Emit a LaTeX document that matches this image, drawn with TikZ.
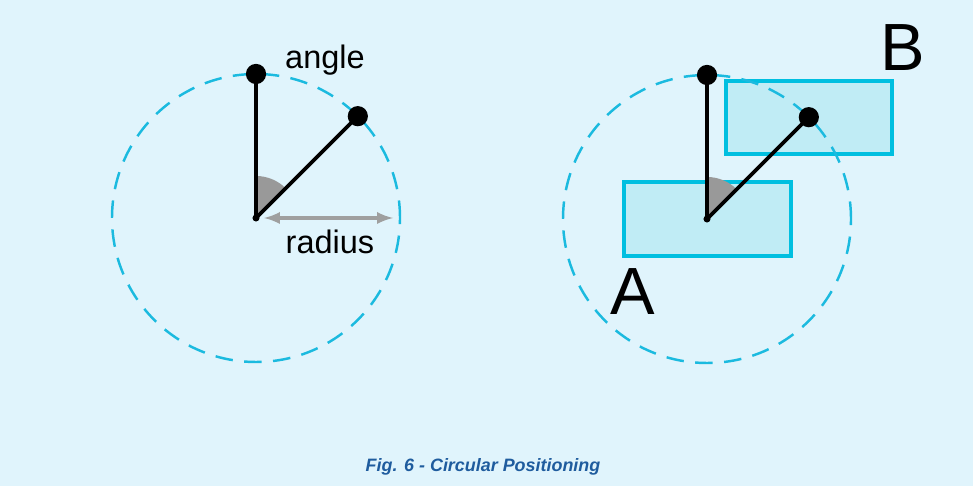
\documentclass[tikz,border=0pt]{standalone}
\usepackage{fontspec}
\setmainfont{Liberation Sans}
\usetikzlibrary{calc}
\definecolor{bgblue}{HTML}{E0F4FC}
\definecolor{ringblue}{HTML}{1BBADF}
\definecolor{boxfill}{HTML}{C0ECF5}
\definecolor{boxline}{HTML}{00BFE0}
\definecolor{capblue}{HTML}{1F5C9E}
\tikzset{
  ring/.style={ringblue, line width=1.4pt, dash pattern=on 10pt off 6.5pt},
  spoke/.style={line width=2.1pt},
  dot/.style={circle, fill=black, inner sep=0pt, minimum size=11.5pt},
  hub/.style={circle, fill=black, inner sep=0pt, minimum size=4pt},
  box/.style={fill=boxfill, draw=boxline, line width=2pt},
  lbl/.style={font=\fontsize{18.5}{20}\selectfont, inner sep=0pt},
  big/.style={font=\fontsize{38}{40}\selectfont, inner sep=0pt}
}
\begin{document}
\begin{tikzpicture}[x=0.02cm, y=0.02cm]
  \fill[bgblue] (0,0) rectangle (973,486);
  \useasboundingbox (0,0) rectangle (973,486);
  % left: angle and radius
  \coordinate (c1) at (256,268);
  \draw[ring] (c1) circle (144);
  \fill[gray!80] (c1) -- ++(90:42) arc (90:45:42) -- cycle;
  \node[dot] (t1) at ($(c1)+(90:144)$) {};
  \node[dot] (p1) at ($(c1)+(45:144)$) {};
  \node[hub] (h1) at (c1) {};
  \draw[spoke] (h1.center) -- (t1.center);
  \draw[spoke] (h1.center) -- (p1.center);
  \coordinate (r0) at (264,268);
  \coordinate (r1) at (393,268);
  \draw[latex-latex, gray!75, line width=2.1pt] (r0) -- (r1);
  \node[lbl] (ang) at (325,426) {angle};
  \node[lbl] (rad) at (330,244) {radius};
  % right: boxes A and B
  \coordinate (c2) at (707,267);
  \draw[box] (624,304) rectangle (791,230);
  \draw[box] (726,405) rectangle (892,332);
  \draw[ring] (c2) circle (144);
  \fill[gray!80] (c2) -- ++(90:42) arc (90:45:42) -- cycle;
  \node[dot] (t2) at ($(c2)+(90:144)$) {};
  \node[dot] (p2) at ($(c2)+(45:144)$) {};
  \node[hub] (h2) at (c2) {};
  \draw[spoke] (h2.center) -- (t2.center);
  \draw[spoke] (h2.center) -- (p2.center);
  \node[big] (a) at (633,194) {A};
  \node[big] (b) at (903,438) {B};
  \node[capblue, font=\fontsize{10.2}{11}\selectfont\bfseries\itshape] (cap) at (483,19) {Fig. 6 - Circular Positioning};
\end{tikzpicture}
\end{document}
